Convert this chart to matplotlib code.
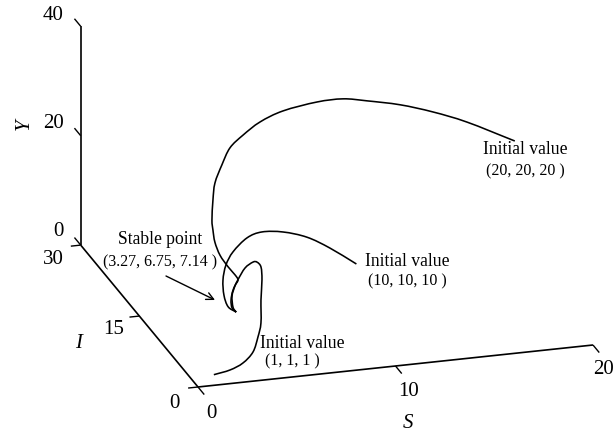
import matplotlib
matplotlib.use("Agg")
import matplotlib.pyplot as plt
from matplotlib.patches import PathPatch
from matplotlib.path import Path
import numpy as np

plt.rcParams['font.family'] = ['Liberation Serif', 'DejaVu Serif']

# trajectories
s1 = [20, 16.99, 14.87, 13.0, 11.13, 9.82, 8.40, 6.58, 5.32, 4.36, 3.60, 3.09, 2.64, 2.44, 2.29, 2.34, 2.34, 2.60, 2.91, 3.26, 3.41, 3.26, 3.09, 3.12, 3.27]
i1 = [20, 17, 15, 14, 13, 12.5, 12, 11.5, 11, 10.5, 10, 9.5, 9, 8.5, 8, 8, 7.5, 7.5, 7, 7, 7, 7, 6.9, 6.8, 6.75]
y1 = [20, 27.2, 31.6, 34.5, 36.8, 38.1, 38.5, 38.0, 36.9, 35.3, 33.7, 31.2, 28.5, 25.9, 22.7, 20.9, 19.1, 16.6, 14.8, 13.2, 12.2, 11.2, 9.5, 7.5, 6.6]

s2 = [10, 8.56, 7.30, 6.03, 4.90, 4.09, 3.32, 2.90, 2.71, 2.72, 2.89, 3.27]
i2 = [10, 9.5, 9, 8.7, 8.4, 8.1, 7.8, 7.5, 7.3, 7.1, 6.9, 6.75]
y2 = [10, 13.9, 16.8, 18.5, 19.2, 18.7, 16.7, 14.7, 12.2, 9.6, 7.6, 6.6]

s3 = [1, 1.92, 2.67, 3.28, 3.63, 3.88, 3.98, 4.13, 4.18, 4.08, 3.91, 3.57, 3.27, 3.06, 2.98, 3.05, 3.27]
i3 = [1, 1.5, 2, 2.5, 3, 3.5, 4, 4.5, 5, 5.5, 5.7, 6, 6.3, 6.5, 6.6, 6.7, 6.75]
y3 = [1, 1.08, 1.63, 2.98, 5.16, 7.18, 10.9, 14.1, 16.0, 16.5, 16.4, 15.2, 12.9, 10.9, 9.05, 7.5, 6.6]

s_ticks = [0, 10, 20]
i_ticks = [0, 15, 30]
y_ticks = [0, 20, 40]


# oblique projection of the 3D box onto the page, in pixels
def project(s, i, y):
    s, i, y = np.asarray(s, float), np.asarray(i, float), np.asarray(y, float)
    return 198 + 19.75 * s - 3.91 * i, 387 - 2.1 * s - 4.73 * i - 5.47 * y


fig = plt.figure(figsize=(6.13, 4.33), dpi=100)
ax = fig.add_axes([0, 0, 1, 1])
ax.set_xlim(0, 613)
ax.set_ylim(433, 0)
ax.axis("off")


def line3d(s, i, y, lw=1.2):
    px, py = project(s, i, y)
    ax.plot(px, py, color="black", lw=lw, solid_capstyle="butt")


# smooth curve through the read points (Bezier segments, no extra data)
def curve3d(s, i, y, lw=1.15):
    px, py = project(s, i, y)
    pts = np.column_stack([px, py])
    tang = np.gradient(pts, axis=0)
    verts = [pts[0]]
    codes = [Path.MOVETO]
    for k in range(len(pts) - 1):
        verts += [pts[k] + tang[k] / 3, pts[k + 1] - tang[k + 1] / 3, pts[k + 1]]
        codes += [Path.CURVE4] * 3
    ax.add_patch(PathPatch(Path(verts, codes), fill=False, edgecolor="black", lw=lw))


# axes
line3d([0, 20], [0, 0], [0, 0])
line3d([0, 0], [0, 30], [0, 0])
line3d([0, 0], [30, 30], [0, 40])

# ticks
for v in s_ticks:
    line3d([v, v], [0, -1.6], [0, 0], lw=1)
for v in i_ticks:
    line3d([0, -0.5], [v, v], [0, 0], lw=1)
for v in y_ticks:
    line3d([0, 0], [30, 31.6], [v, v], lw=1)

# trajectories
curve3d(s1, i1, y1)
curve3d(s2, i2, y2)
curve3d(s3, i3, y3)

tick_fs = 15
word_fs = 12.7
num_fs = 11.5
ax.text(53, 15, "40", fontsize=tick_fs, ha="center", va="center")
ax.text(53, 123, "20", fontsize=tick_fs, ha="center", va="center")
ax.text(58, 231, "0", fontsize=tick_fs, ha="center", va="center")
ax.text(53, 259, "30", fontsize=tick_fs, ha="center", va="center")
ax.text(114, 329, "15", fontsize=tick_fs, ha="center", va="center")
ax.text(174, 403, "0", fontsize=tick_fs, ha="center", va="center")
ax.text(211, 413, "0", fontsize=tick_fs, ha="center", va="center")
ax.text(409, 392, "10", fontsize=tick_fs, ha="center", va="center")
ax.text(603, 370, "20", fontsize=tick_fs, ha="center", va="center")

ax.text(408, 423, "S", fontsize=tick_fs, style="italic", ha="center", va="center")
ax.text(79, 343, "I", fontsize=tick_fs, style="italic", ha="center", va="center")
ax.text(24, 124, "Y", fontsize=tick_fs, style="italic", rotation=90, ha="center", va="center")

ax.text(160, 239, "Stable point", fontsize=word_fs, ha="center", va="center")
ax.text(160, 262, "(3.27, 6.75, 7.14 )", fontsize=num_fs, ha="center", va="center")
ax.text(302, 343, "Initial value", fontsize=word_fs, ha="center", va="center")
ax.text(292, 361, "(1, 1, 1 )", fontsize=num_fs, ha="center", va="center")
ax.text(407, 261, "Initial value", fontsize=word_fs, ha="center", va="center")
ax.text(407, 281, "(10, 10, 10 )", fontsize=num_fs, ha="center", va="center")
ax.text(525, 150, "Initial value", fontsize=word_fs, ha="center", va="center")
ax.text(525, 171, "(20, 20, 20 )", fontsize=num_fs, ha="center", va="center")

ax.annotate("", xy=(215, 300), xytext=(166, 276),
            arrowprops=dict(arrowstyle="->", color="black", lw=1, shrinkA=0, shrinkB=0, mutation_scale=13))

fig.savefig("out.png", dpi=100)
